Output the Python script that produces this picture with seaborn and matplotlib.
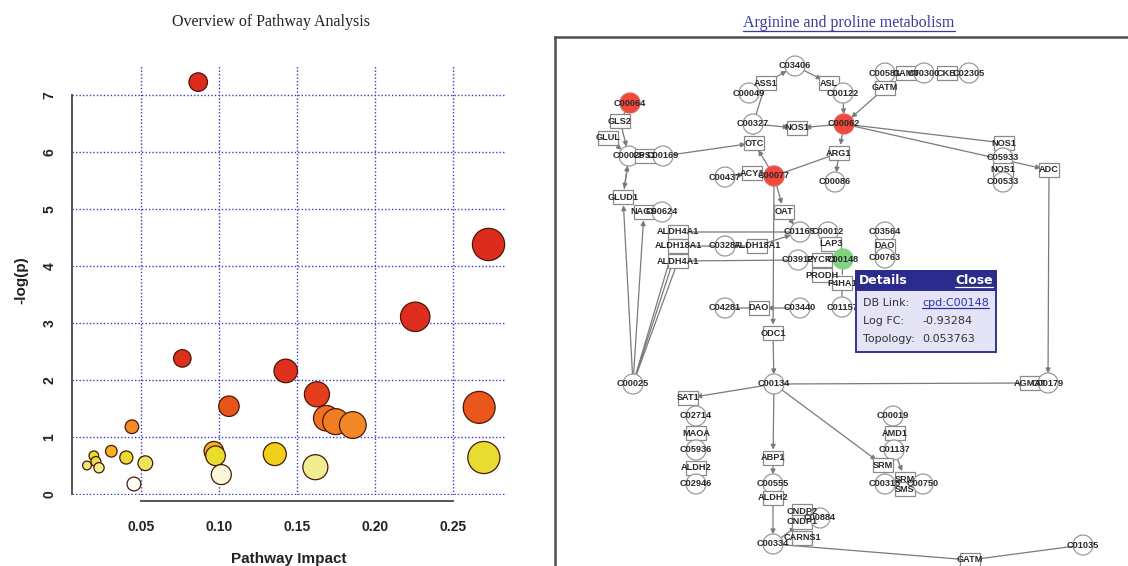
import numpy as np
import pandas as pd
import matplotlib
matplotlib.use("Agg")
import matplotlib.pyplot as plt
import seaborn as sns
from matplotlib.colors import LinearSegmentedColormap
from matplotlib.patches import Circle, Rectangle
from matplotlib.lines import Line2D

# ---------------- Left panel data: pathway overview ----------------
impact = [0.0969, 0.0869, 0.273, 0.226, 0.0767, 0.143, 0.163, 0.1066, 0.267, 0.169, 0.175, 0.186,
          0.0444, 0.270, 0.136, 0.098, 0.1017, 0.162, 0.0457, 0.053, 0.0408, 0.0312,
          0.020, 0.0213, 0.0233, 0.0156]
neglogp = [0.75, 7.23, 4.38, 3.11, 2.38, 2.16, 1.75, 1.54, 1.52, 1.33, 1.27, 1.21,
           1.18, 0.64, 0.70, 0.67, 0.34, 0.47, 0.175, 0.54, 0.64, 0.75,
           0.67, 0.57, 0.46, 0.50]
x_ticks = [0.05, 0.10, 0.15, 0.20, 0.25]
y_ticks = [0, 1, 2, 3, 4, 5, 6, 7]

# ---------------- Right panel data: pathway network ----------------
node_ids = ["C03406", "ASS1", "C00049", "ASL", "C00122", "C00064", "GLS2", "GLUL", "C00327", "NOS1a",
            "C00062", "C00025a", "CPS1", "C00169", "OTC", "ARG1", "C00437", "ACY1", "C00077", "C00086",
            "GLUD1", "NAGS", "C00624", "OAT", "ALDH4A1a", "ALDH18A1a", "C03287", "ALDH18A1b", "ALDH4A1b", "C01165",
            "C00012", "LAP3", "C03912", "PYCR1", "C00148", "PRODH", "P4HA1", "C01157", "C03564", "DAOa",
            "C00763", "C04281", "DAOb", "C03440", "ODC1", "C00025b", "C00134", "SAT1", "C02714", "MAOA",
            "C05936", "ALDH2a", "C02946", "ABP1", "C00555", "ALDH2b", "CNDP2", "CNDP1", "CARNS1", "C00884",
            "C00334", "GATMb", "C01035", "C00019", "AMD1", "C01137", "SRMa", "C00315", "SRMb", "SMS",
            "C00750", "AGMAT", "C00179", "ADC", "NOS1b", "C05933", "NOS1c", "C00533", "C00581", "GAMT",
            "C00300", "CKB", "C02305", "GATMa"]
node_labels = ["C03406", "ASS1", "C00049", "ASL", "C00122", "C00064", "GLS2", "GLUL", "C00327", "NOS1",
               "C00062", "C00025", "CPS1", "C00169", "OTC", "ARG1", "C00437", "ACY1", "C00077", "C00086",
               "GLUD1", "NAGS", "C00624", "OAT", "ALDH4A1", "ALDH18A1", "C03287", "ALDH18A1", "ALDH4A1", "C01165",
               "C00012", "LAP3", "C03912", "PYCR1", "C00148", "PRODH", "P4HA1", "C01157", "C03564", "DAO",
               "C00763", "C04281", "DAO", "C03440", "ODC1", "C00025", "C00134", "SAT1", "C02714", "MAOA",
               "C05936", "ALDH2", "C02946", "ABP1", "C00555", "ALDH2", "CNDP2", "CNDP1", "CARNS1", "C00884",
               "C00334", "GATM", "C01035", "C00019", "AMD1", "C01137", "SRM", "C00315", "SRM", "SMS",
               "C00750", "AGMAT", "C00179", "ADC", "NOS1", "C05933", "NOS1", "C00533", "C00581", "GAMT",
               "C00300", "CKB", "C02305", "GATM"]
node_x = [795, 766, 749, 829, 843, 630, 620, 608, 753, 797,
          844, 629, 645, 663, 754, 839, 725, 752, 774, 835,
          623, 644, 662, 784, 678, 678, 725, 757, 678, 800,
          828, 831, 798, 822, 843, 822, 842, 842, 885, 885,
          885, 725, 759, 800, 773, 633, 774, 688, 696, 696,
          696, 696, 696, 773, 773, 773, 802, 802, 802, 820,
          773, 970, 1083, 893, 895, 894, 883, 885, 905, 905,
          923, 1030, 1048, 1049, 1004, 1003, 1003, 1003, 885, 906,
          924, 947, 969, 885]
node_y = [66, 83, 93, 83, 93, 103, 121, 138, 124, 128,
          124, 156, 156, 156, 143, 153, 177, 173, 176, 182,
          197, 212, 212, 212, 232, 246, 246, 246, 261, 232,
          232, 244, 260, 260, 259, 275, 283, 307, 232, 246,
          258, 308, 308, 308, 333, 384, 384, 398, 416, 433,
          450, 468, 484, 458, 484, 498, 511, 522, 538, 518,
          544, 560, 545, 416, 433, 450, 465, 484, 479, 489,
          484, 383, 383, 170, 143, 158, 170, 182, 73, 73,
          73, 73, 73, 88]
# "c" = compound (circle), "g" = gene (box)
node_kind = ["c", "g", "c", "g", "c", "c", "g", "g", "c", "g",
             "c", "c", "g", "c", "g", "g", "c", "g", "c", "c",
             "g", "g", "c", "g", "g", "g", "c", "g", "g", "c",
             "c", "g", "c", "g", "c", "g", "g", "c", "c", "g",
             "c", "c", "g", "c", "g", "c", "c", "g", "c", "g",
             "c", "g", "c", "g", "c", "g", "g", "g", "g", "c",
             "c", "g", "c", "c", "g", "c", "g", "c", "g", "g",
             "c", "g", "c", "g", "g", "c", "g", "c", "c", "g",
             "c", "g", "c", "g"]
hit_up = ["C00064", "C00062", "C00077"]
hit_down = ["C00148"]
# edges: (source, target, has_arrow)
edges = [("C00064", "GLS2", 0), ("GLS2", "C00025a", 1), ("GLUL", "C00025a", 1), ("C00169", "OTC", 1),
         ("C00327", "OTC", 0), ("C00327", "ASS1", 0), ("C00049", "ASS1", 1), ("ASS1", "C03406", 1),
         ("C03406", "ASL", 1), ("C00122", "C00062", 1), ("GATMa", "C00062", 1), ("C00327", "NOS1a", 1),
         ("C00062", "NOS1a", 1), ("C00062", "ARG1", 1), ("ARG1", "C00086", 1), ("ARG1", "C00077", 0),
         ("C00077", "OTC", 1), ("C00437", "ACY1", 1), ("ACY1", "C00077", 0), ("C00077", "OAT", 1),
         ("OAT", "C01165", 1), ("C00062", "NOS1b", 0), ("C00062", "ADC", 1), ("ADC", "C00179", 1),
         ("C00134", "AGMAT", 0), ("C00025a", "GLUD1", 1), ("GLUD1", "C00025a", 1), ("C00025b", "GLUD1", 1),
         ("C00025b", "NAGS", 1), ("C00025b", "ALDH4A1a", 0), ("C00025b", "ALDH18A1a", 0),
         ("C00025b", "ALDH4A1b", 0), ("ALDH4A1a", "C01165", 0), ("ALDH18A1a", "C03287", 0),
         ("C03287", "ALDH18A1b", 0), ("ALDH18A1b", "C01165", 1), ("ALDH4A1b", "C03912", 0),
         ("C04281", "DAOb", 0), ("C03440", "DAOb", 1), ("C00077", "ODC1", 1), ("ODC1", "C00134", 1),
         ("C00134", "SAT1", 1), ("C00134", "ABP1", 1), ("ABP1", "C00555", 1), ("ALDH2b", "C00334", 1),
         ("C00134", "SRMa", 1), ("C01137", "SRMb", 1), ("C00334", "CNDP1", 1), ("C00334", "GATMb", 0),
         ("GATMb", "C01035", 0), ("C00148", "P4HA1", 0), ("P4HA1", "C01157", 0)]

popup_rows = [("DB Link:", "cpd:C00148"), ("Log FC:", "-0.93284"), ("Topology:", "0.053763")]

# ---------------- Figure ----------------
sns.set_theme(style="white")
plt.rcParams["font.family"] = ["Liberation Sans", "DejaVu Sans"]
fig = plt.figure(figsize=(11.28, 5.66), dpi=100)
W, H = 1128, 566

# ----- left: bubble chart -----
ax = fig.add_axes([71.7 / W, (H - 495) / H, (506 - 71.7) / W, (495 - 65) / H])
df = pd.DataFrame({"impact": impact, "neglogp": neglogp})
cmap = LinearSegmentedColormap.from_list(
    "heatlike",
    [(0.0, "#FFFFFF"), (0.2 / 7.3, "#FFFFF4"), (0.35 / 7.3, "#F8F5D2"), (0.47 / 7.3, "#F0EC8A"),
     (0.55 / 7.3, "#E4E03C"), (0.66 / 7.3, "#E8DC2E"), (0.69 / 7.3, "#F2CE18"), (0.73 / 7.3, "#F5C212"),
     (0.76 / 7.3, "#F2A02C"),
     (1.2 / 7.3, "#F28A24"), (1.3 / 7.3, "#EF7421"), (1.52 / 7.3, "#EA561C"), (1.75 / 7.3, "#E43E1C"),
     (2.2 / 7.3, "#DE2E1E"), (1.0, "#DC2A1E")])
for v in x_ticks:
    ax.axvline(v, color="#3a3ac4", lw=1.0, ls=(0, (1, 1.5)), zorder=0)
for v in y_ticks:
    ax.axhline(v, color="#3a3ac4", lw=1.0, ls=(0, (1, 1.5)), zorder=0)
sns.scatterplot(data=df, x="impact", y="neglogp", hue="neglogp", palette=cmap, hue_norm=(0, 7.3),
                size="impact", sizes=(40, 540), size_norm=(0.0156, 0.273),
                edgecolor="#4a1808", linewidth=0.9, legend=False, ax=ax, clip_on=False, zorder=3)
ax.set_xlim(0.0058, 0.2842)
ax.set_ylim(-0.018, 7.53)
ax.set_xticks(x_ticks)
ax.set_xticklabels([f"{v:.2f}" for v in x_ticks])
ax.set_yticks(y_ticks)
ax.set_yticklabels([str(v) for v in y_ticks])
for s in ["top", "right"]:
    ax.spines[s].set_visible(False)
ax.spines["left"].set_bounds(0, 7)
ax.spines["bottom"].set_bounds(0.05, 0.25)
ax.spines["bottom"].set_position(("outward", 4))
for s in ["left", "bottom"]:
    ax.spines[s].set_color("#555555")
    ax.spines[s].set_linewidth(1.4)
ax.tick_params(axis="both", direction="out", length=5, width=1.2, color="#555555",
               labelsize=10, labelcolor="#222222", pad=6)
ax.tick_params(axis="x", pad=9)
ax.tick_params(axis="y", labelrotation=90)
for t in ax.get_xticklabels() + ax.get_yticklabels():
    t.set_fontweight("bold")
for t in ax.get_yticklabels():
    t.set_va("center")
ax.set_xlabel("Pathway Impact", fontsize=11, fontweight="bold", color="#222222", labelpad=13)
ax.set_ylabel("-log(p)", fontsize=11, fontweight="bold", color="#222222", labelpad=10)
ax.set_facecolor("white")
fig.text(271 / W, 1 - 22 / H, "Overview of Pathway Analysis", ha="center", va="center",
         fontsize=11.5, family=["Liberation Serif", "DejaVu Serif"], color="#222222")

# ----- right: network -----
ax2 = fig.add_axes([555 / W, 0, (W - 555) / W, (H - 37) / H])
ax2.set_xlim(555, W)
ax2.set_ylim(H, 37)
ax2.set_xticks([])
ax2.set_yticks([])
ax2.set_facecolor("white")
for s in ["right", "bottom"]:
    ax2.spines[s].set_visible(False)
for s in ["left", "top"]:
    ax2.spines[s].set_color("#505050")
    ax2.spines[s].set_linewidth(1.8)

pos = {n: (x, y) for n, x, y in zip(node_ids, node_x, node_y)}
kind = dict(zip(node_ids, node_kind))
for a, b, arr in edges:
    shrink_a = 7 if kind[a] == "c" else 6
    shrink_b = 7 if kind[b] == "c" else 6
    ax2.annotate("", xy=pos[b], xytext=pos[a],
                 arrowprops=dict(arrowstyle="-|>" if arr else "-", color="#7a7a7a", lw=0.9,
                                 shrinkA=shrink_a, shrinkB=shrink_b, mutation_scale=7),
                 zorder=1)
for n, lab, x, y, k in zip(node_ids, node_labels, node_x, node_y, node_kind):
    if k == "c":
        fc = "#F0493C" if n in hit_up else ("#7ED67E" if n in hit_down else "white")
        ec = "#E06060" if n in hit_up else ("#8ACB8A" if n in hit_down else "#9a9a9a")
        ax2.add_patch(Circle((x, y), 10, facecolor=fc, edgecolor=ec, lw=0.9, zorder=2))
    else:
        ax2.add_patch(Rectangle((x - 10, y - 7), 20, 14, facecolor="white", edgecolor="#8a8a8a",
                                lw=0.9, zorder=2))
    ax2.text(x, y, lab, ha="center", va="center", fontsize=6.6, fontweight="bold",
             color="#2a2a2a", zorder=3)

# details popup
ax2.add_patch(Rectangle((856, 271), 140, 81, facecolor="#E4E4F6", edgecolor="#34349A", lw=1.4, zorder=5))
ax2.add_patch(Rectangle((856, 271), 140, 19, facecolor="#2B2B8E", edgecolor="#2B2B8E", lw=1.4, zorder=5))
ax2.text(859, 281, "Details", ha="left", va="center", fontsize=9, fontweight="bold",
         color="white", family="DejaVu Sans", zorder=6)
tc = ax2.text(993, 281, "Close", ha="right", va="center", fontsize=9, fontweight="bold",
              color="white", family="DejaVu Sans", zorder=6)
row_y = [303, 321, 339]
link_texts = []
for (k_, v_), yy in zip(popup_rows, row_y):
    ax2.text(863, yy, k_, ha="left", va="center", fontsize=8, color="#333333",
             family="DejaVu Sans", zorder=6)
    is_link = v_.startswith("cpd")
    t_ = ax2.text(922, yy, v_, ha="left", va="center", fontsize=8,
                  color="#3030A8" if is_link else "#333333", family="DejaVu Sans", zorder=6)
    if is_link:
        link_texts.append(t_)

title2 = fig.text(849 / W, 1 - 23 / H, "Arginine and proline metabolism", ha="center", va="center",
                  fontsize=11.5, family=["Liberation Serif", "DejaVu Serif"], color="#3a3aa0")

# underlines for link-like texts
fig.canvas.draw()
renderer = fig.canvas.get_renderer()
for t_, col in [(title2, "#3a3aa0"), (tc, "white")] + [(lt, "#3030A8") for lt in link_texts]:
    bb = t_.get_window_extent(renderer)
    yline = bb.y0 + 0.5
    fig.add_artist(Line2D([bb.x0 / W, bb.x1 / W], [yline / H, yline / H], color=col, lw=0.9,
                          transform=fig.transFigure, zorder=7))

fig.savefig("out.png", dpi=100)
